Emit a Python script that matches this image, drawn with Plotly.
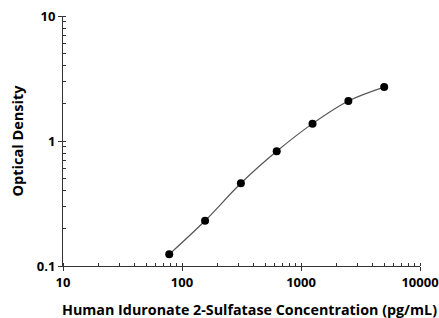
import plotly.graph_objects as go

concentration = [78.125, 156.25, 312.5, 625, 1250, 2500, 5000]
optical_density = [0.124, 0.230, 0.459, 0.827, 1.377, 2.09, 2.70]

x_tickvals = [10, 100, 1000, 10000]
x_ticktext = ["10", "100", "1000", "10000"]
y_tickvals = [0.1, 1, 10]
y_ticktext = ["0.1", "1", "10"]

FONT = "Open Sans"

fig = go.Figure()
fig.add_trace(go.Scatter(
    x=concentration, y=optical_density, mode="lines",
    line=dict(color="#555555", width=1.2, shape="spline", smoothing=1.0),
    hoverinfo="skip", showlegend=False))
fig.add_trace(go.Scatter(
    x=concentration, y=optical_density, mode="markers",
    marker=dict(color="black", size=8),
    showlegend=False))

axis_common = dict(
    type="log", showgrid=False, zeroline=False, automargin=False,
    showline=True, linecolor="#333333", linewidth=1,
    ticks="outside", ticklen=4, tickcolor="#333333", tickwidth=1,
    tickfont=dict(family=FONT, size=13, color="black", weight="bold"),
)

fig.update_layout(
    width=439, height=318,
    margin=dict(l=63, r=19, t=16, b=52),
    paper_bgcolor="white", plot_bgcolor="white",
    xaxis=dict(**axis_common, range=[1, 4],
               tickvals=x_tickvals, ticktext=x_ticktext,
               minor=dict(ticks="inside", ticklen=3, tickcolor="#333333",
                          tickwidth=1, dtick="D1")),
    yaxis=dict(**axis_common, range=[-1, 1],
               tickvals=y_tickvals, ticktext=y_ticktext,
               minor=dict(ticks="inside", ticklen=3, tickcolor="#333333",
                          tickwidth=1, dtick="D1"),
               title=dict(text="Optical Density",
                          font=dict(family=FONT, size=14.5, color="black", weight="bold"),
                          standoff=9)),
    annotations=[dict(
        text="Human Iduronate 2-Sulfatase Concentration (pg/mL)",
        xref="paper", yref="paper", x=0.522, y=-0.172,
        xanchor="center", yanchor="middle", showarrow=False,
        font=dict(family=FONT, size=14.3, color="black", weight="bold"))],
)

fig.write_html("out.html", config={"displayModeBar": False},
               post_script="document.body.style.margin='0px';")
